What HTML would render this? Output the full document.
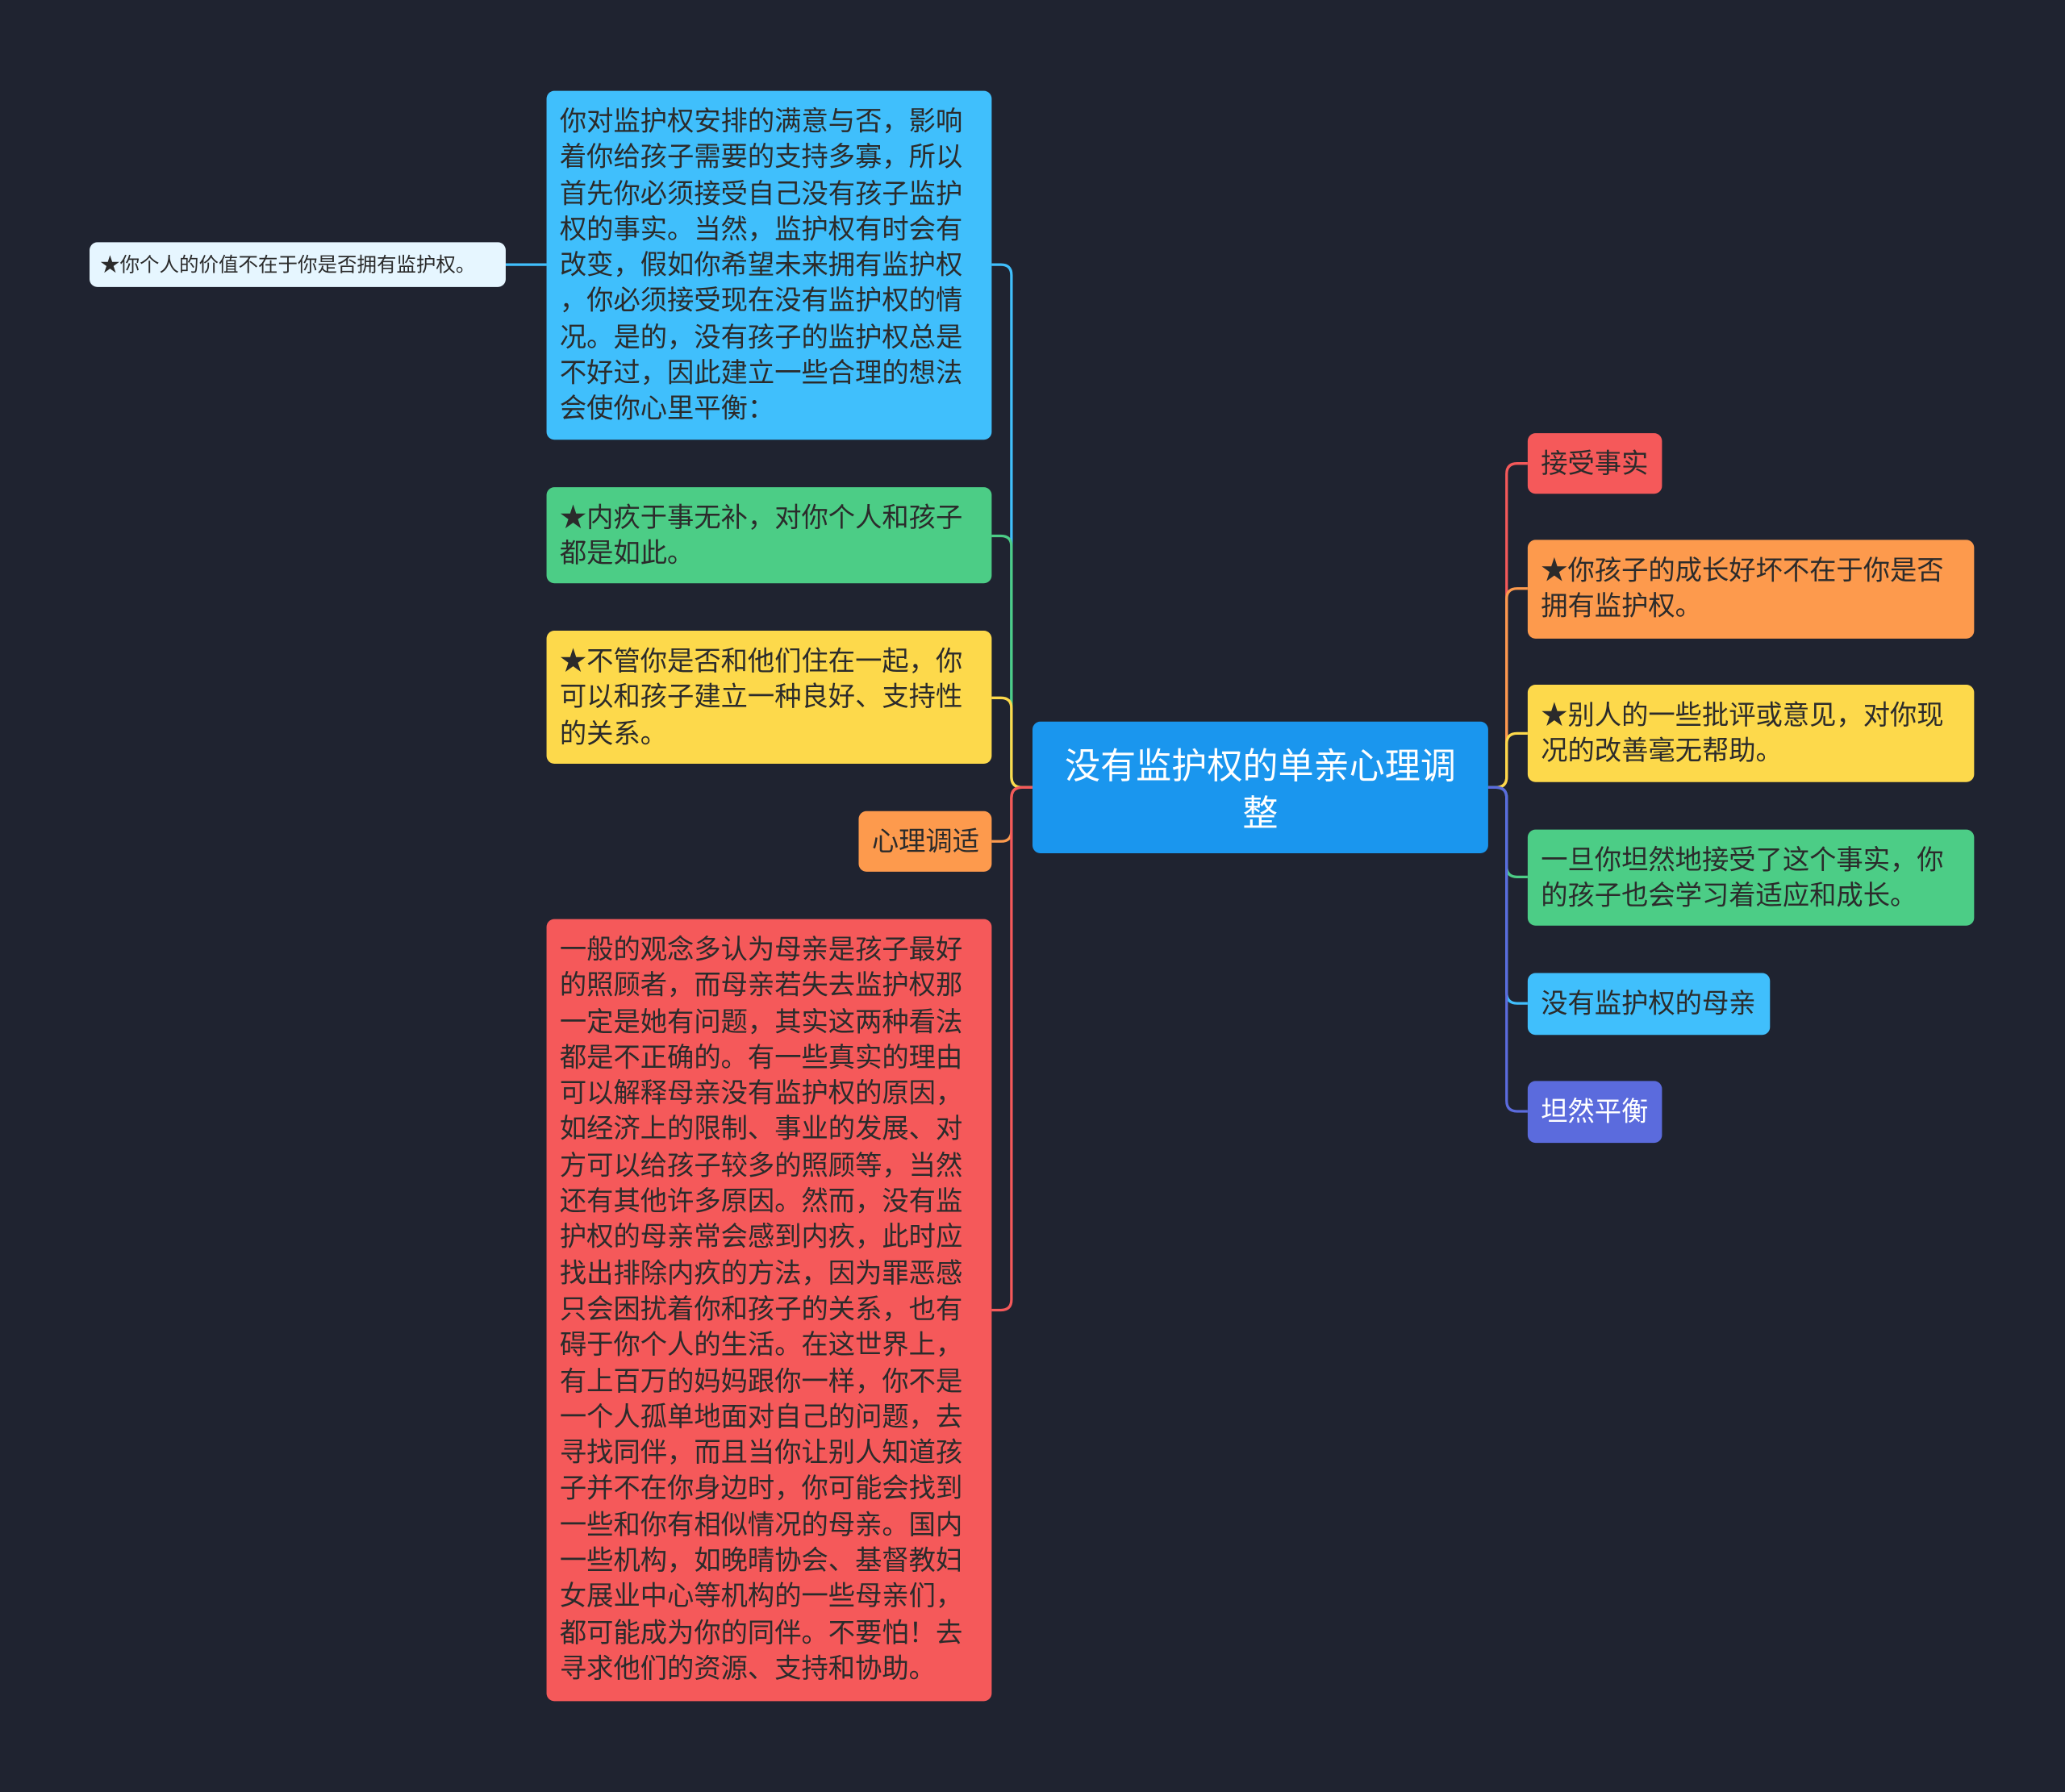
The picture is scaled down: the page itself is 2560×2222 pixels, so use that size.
<!DOCTYPE html>
<html><head><meta charset="utf-8"><style>
html,body{margin:0;padding:0;background:#1f2330;overflow:hidden}
#wrap{position:relative;width:1568px;height:1361px;transform:scale(1.632653);transform-origin:0 0;
font-family:"Liberation Sans","Noto Sans CJK SC",sans-serif}
.b{position:absolute;border-radius:6px;box-sizing:border-box;padding:11px 10px 8px;color:#2b2b2b;font-size:20.4px;line-height:27.3px;white-space:nowrap}
svg{position:absolute;left:0;top:0}
</style></head><body><div id="wrap">
<svg width="1568" height="1361" fill="none" stroke-width="2">
<path d="M784,598 H776 Q768,598 768,590 V209 Q768,201 760,201 H753" stroke="#40bffc"/>
<path d="M784,598 H776 Q768,598 768,590 V415 Q768,407 760,407 H753" stroke="#4ccd86"/>
<path d="M784,598 H776 Q768,598 768,590 V538 Q768,530 760,530 H753" stroke="#fdd94b"/>
<path d="M784,598 H776 Q768,598 768,606 V631 Q768,639 760,639 H753" stroke="#fd9a4d"/>
<path d="M784,598 H776 Q768,598 768,606 V987 Q768,995 760,995 H753" stroke="#f5595a"/>
<path d="M415,201 H384" stroke="#40bffc"/>
<path d="M1130,598 H1136 Q1144,598 1144,590 V360 Q1144,352 1152,352 H1160" stroke="#f5595a"/>
<path d="M1130,598 H1136 Q1144,598 1144,590 V455 Q1144,447 1152,447 H1160" stroke="#fd9a4d"/>
<path d="M1130,598 H1136 Q1144,598 1144,590 V565 Q1144,557 1152,557 H1160" stroke="#fdd94b"/>
<path d="M1130,598 H1136 Q1144,598 1144,606 V658 Q1144,666 1152,666 H1160" stroke="#4ccd86"/>
<path d="M1130,598 H1136 Q1144,598 1144,606 V754 Q1144,762 1152,762 H1160" stroke="#40bffc"/>
<path d="M1130,598 H1136 Q1144,598 1144,606 V836 Q1144,844 1152,844 H1160" stroke="#5b6bdd"/>
</svg>
<div class="b" style="left:784px;top:548px;width:346px;height:100px;background:#1a96ee;color:#fff;font-size:27px;line-height:36px;text-align:center;padding-top:16px">没有监护权的单亲心理调<br>整</div>
<div class="b" style="left:415px;top:69px;width:338px;height:265px;background:#40bffc">你对监护权安排的满意与否，影响<br>着你给孩子需要的支持多寡，所以<br>首先你必须接受自己没有孩子监护<br>权的事实。当然，监护权有时会有<br>改变，假如你希望未来拥有监护权<br>，你必须接受现在没有监护权的情<br>况。是的，没有孩子的监护权总是<br>不好过，因此建立一些合理的想法<br>会使你心里平衡：</div>
<div class="b" style="left:68px;top:184px;width:316px;height:34px;background:#e6f6ff;font-size:15px;line-height:20px;padding:8px 8px">★你个人的价值不在于你是否拥有监护权。</div>
<div class="b" style="left:415px;top:370px;width:338px;height:73px;background:#4ccd86">★内疚于事无补，对你个人和孩子<br>都是如此。</div>
<div class="b" style="left:415px;top:479px;width:338px;height:101px;background:#fdd94b">★不管你是否和他们住在一起，你<br>可以和孩子建立一种良好、支持性<br>的关系。</div>
<div class="b" style="left:652px;top:616px;width:101px;height:46px;background:#fd9a4d">心理调适</div>
<div class="b" style="left:415px;top:698px;width:338px;height:594px;background:#f5595a">一般的观念多认为母亲是孩子最好<br>的照顾者，而母亲若失去监护权那<br>一定是她有问题，其实这两种看法<br>都是不正确的。有一些真实的理由<br>可以解释母亲没有监护权的原因，<br>如经济上的限制、事业的发展、对<br>方可以给孩子较多的照顾等，当然<br>还有其他许多原因。然而，没有监<br>护权的母亲常会感到内疚，此时应<br>找出排除内疚的方法，因为罪恶感<br>只会困扰着你和孩子的关系，也有<br>碍于你个人的生活。在这世界上，<br>有上百万的妈妈跟你一样，你不是<br>一个人孤单地面对自己的问题，去<br>寻找同伴，而且当你让别人知道孩<br>子并不在你身边时，你可能会找到<br>一些和你有相似情况的母亲。国内<br>一些机构，如晚晴协会、基督教妇<br>女展业中心等机构的一些母亲们，<br>都可能成为你的同伴。不要怕！去<br>寻求他们的资源、支持和协助。</div>
<div class="b" style="left:1160px;top:329px;width:102px;height:46px;background:#f5595a">接受事实</div>
<div class="b" style="left:1160px;top:410px;width:339px;height:75px;background:#fd9a4d">★你孩子的成长好坏不在于你是否<br>拥有监护权。</div>
<div class="b" style="left:1160px;top:520px;width:339px;height:74px;background:#fdd94b">★别人的一些批评或意见，对你现<br>况的改善毫无帮助。</div>
<div class="b" style="left:1160px;top:630px;width:339px;height:73px;background:#4ccd86">一旦你坦然地接受了这个事实，你<br>的孩子也会学习着适应和成长。</div>
<div class="b" style="left:1160px;top:739px;width:184px;height:47px;background:#40bffc">没有监护权的母亲</div>
<div class="b" style="left:1160px;top:821px;width:102px;height:47px;background:#5b6bdd;color:#fff">坦然平衡</div>
</div></body></html>
